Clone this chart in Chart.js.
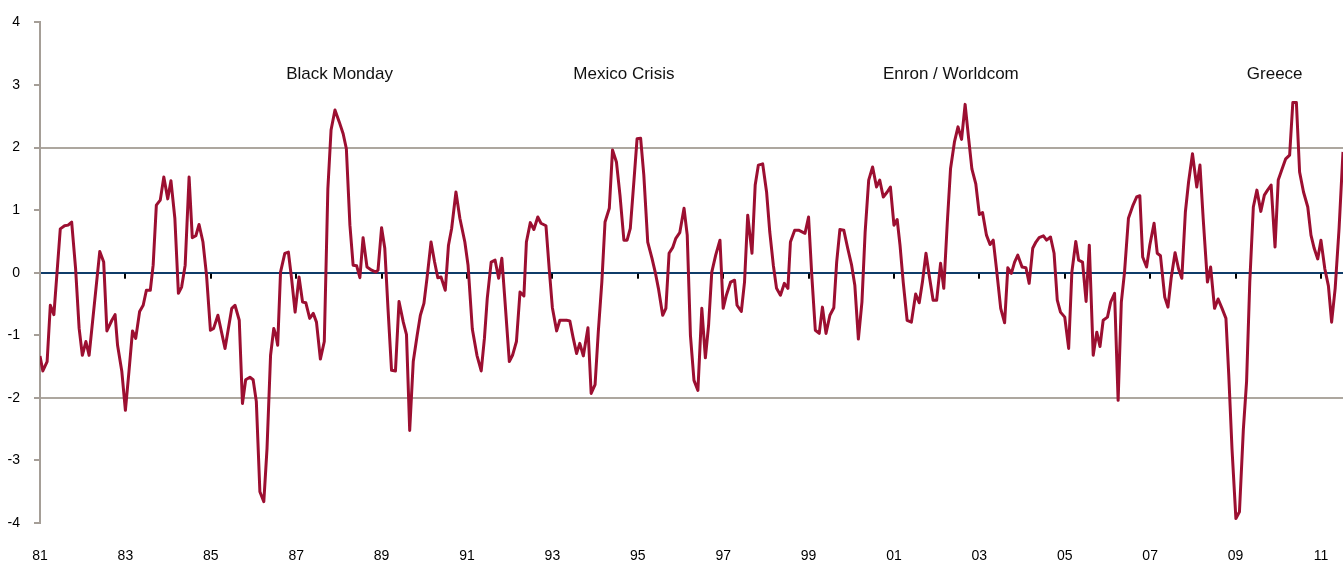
<!DOCTYPE html>
<html><head><meta charset="utf-8">
<script src="https://cdn.jsdelivr.net/npm/chart.js@4.4.0/dist/chart.umd.min.js"></script>
<style>html,body{margin:0;padding:0;background:#fff;}#wrap{width:1343px;height:564px;}</style>
</head><body><div id="wrap"><canvas id="c" width="1343" height="564"></canvas></div>
<script>
// months since Jan 1981 (at each visible vertex)
const months = [
0,0.8,2.0,2.9,3.9,5.7,6.9,7.9,8.9,10.0,11.0,11.9,12.9,13.8,16.8,17.9,18.8,20.2,21.1,21.8,23.0,24.0,25.0,26.0,26.9,28.0,29.0,
29.9,31.0,31.8,32.7,33.8,34.8,35.9,36.8,37.9,38.9,39.8,40.8,41.9,42.8,43.8,44.7,45.8,46.8,47.9,48.8,50.0,52.0,53.9,54.8,56.0,56.9,57.8,59.0,
59.9,60.8,61.8,62.9,63.8,64.8,65.7,66.3,66.8,67.6,68.8,69.8,70.7,71.7,72.8,73.8,74.7,75.8,76.8,77.7,78.8,79.9,80.9,81.8,82.9,84.1,85.2,86.1,87.1,88.0,89.0,89.9,90.8,
91.9,93.2,94.4,95.0,96.0,96.9,97.8,98.8,99.9,100.9,102.1,103.0,103.9,104.9,106.0,106.9,107.9,108.8,109.9,110.9,111.8,112.7,113.9,114.8,115.7,116.9,118.0,119.4,120.3,
121.5,122.8,124.0,124.9,125.7,126.8,127.9,128.9,129.8,130.7,131.9,132.8,133.9,134.9,136.0,136.7,137.8,138.8,139.9,140.8,142.2,143.1,144.0,145.2,146.1,148.0,148.9,149.8,150.8,151.7,152.7,
154.0,154.9,156.0,156.9,157.9,158.8,160.0,160.9,162.0,163.0,164.1,165.0,165.9,166.9,167.8,168.8,169.7,170.8,172.0,172.9,173.8,175.0,175.9,176.8,177.8,178.7,179.8,181.0,181.9,182.8,
183.8,184.9,186.0,187.0,187.9,188.8,189.9,191.1,192.0,192.9,194.1,195.2,195.9,197.1,198.0,198.9,200.1,201.0,201.9,203.1,204.2,205.1,206.1,207.0,208.1,209.2,210.2,210.9,212.1,213.2,
215.0,216.0,216.9,217.9,219.0,219.9,220.9,222.0,223.1,223.9,224.8,225.9,227.0,228.1,229.0,230.0,231.0,231.9,232.9,234.0,235.1,236.0,237.0,238.1,239.0,240.0,240.9,241.7,242.6,243.7,244.9,
246.1,247.1,248.0,249.0,249.9,251.0,252.0,253.1,254.0,255.0,255.9,257.0,258.0,259.0,260.0,261.0,261.9,263.0,264.0,264.9,266.0,267.0,267.9,268.8,270.0,271.1,272.0,273.0,273.9,274.8,276.0,
277.1,278.0,279.0,279.9,280.8,282.0,282.9,284.0,285.0,285.9,286.8,288.0,289.1,290.0,291.1,291.9,293.0,294.0,294.9,296.0,297.0,297.9,298.8,300.0,300.9,302.0,303.0,303.9,304.8,305.9,
307.2,308.2,309.1,309.9,311.0,311.9,313.1,314.0,314.9,316.1,317.0,317.9,319.0,320.0,320.9,321.9,322.8,323.9,325.1,326.0,326.9,328.1,329.0,330.1,331.1,332.2,333.3,334.1,335.0,336.1,337.1,
338.2,339.1,340.0,341.0,342.0,343.1,344.1,345.0,346.0,347.1,348.0,349.1,350.1,351.2,352.1,353.1,354.0,355.1,356.3,357.2,358.1,359.1,360.0,361.1,362.1,363.0,364.0,365.1,366.2
];
const values = [
-1.33,-1.57,-1.42,-0.52,-0.67,0.70,0.75,0.76,0.81,0.07,-0.89,-1.32,-1.10,-1.32,0.34,0.17,-0.93,-0.76,-0.67,-1.16,-1.58,-2.20,-1.58,-0.93,-1.05,-0.62,-0.52,
-0.28,-0.28,0.12,1.08,1.16,1.53,1.18,1.47,0.87,-0.33,-0.23,0.12,1.53,0.56,0.59,0.77,0.49,-0.04,-0.92,-0.89,-0.68,-1.21,-0.57,-0.52,-0.76,-2.09,-1.71,-1.67,
-1.71,-2.06,-3.50,-3.66,-2.81,-1.32,-0.89,-1.00,-1.16,0.01,0.31,0.33,-0.09,-0.63,-0.07,-0.47,-0.48,-0.73,-0.65,-0.79,-1.38,-1.10,1.34,2.28,2.60,2.41,2.22,1.98,0.76,0.12,0.11,-0.08,0.56,
0.09,0.04,0.01,0.04,0.72,0.39,-0.57,-1.56,-1.57,-0.46,-0.79,-0.99,-2.52,-1.42,-1.00,-0.68,-0.49,-0.07,0.49,0.17,-0.08,-0.07,-0.28,0.44,0.71,1.29,0.87,0.49,0.12,
-0.90,-1.32,-1.57,-1.05,-0.41,0.17,0.20,-0.09,0.23,-0.47,-1.42,-1.32,-1.10,-0.31,-0.37,0.49,0.80,0.69,0.89,0.79,0.75,0.07,-0.56,-0.93,-0.76,-0.76,-0.77,-1.03,-1.29,-1.13,-1.33,
-0.88,-1.93,-1.79,-0.95,-0.15,0.81,1.03,1.96,1.77,1.24,0.52,0.52,0.71,1.45,2.14,2.15,1.56,0.49,0.23,0.01,-0.25,-0.68,-0.57,0.31,0.40,0.55,0.64,1.03,0.60,-1.00,
-1.72,-1.88,-0.57,-1.36,-0.84,0.01,0.28,0.52,-0.57,-0.36,-0.15,-0.12,-0.52,-0.62,-0.15,0.92,0.31,1.40,1.72,1.74,1.29,0.65,0.12,-0.25,-0.36,-0.17,-0.25,0.49,0.68,0.68,
0.63,0.89,-0.04,-0.92,-0.97,-0.55,-0.97,-0.68,-0.56,0.17,0.69,0.68,0.39,0.12,-0.20,-1.06,-0.47,0.65,1.48,1.69,1.37,1.48,1.21,1.29,1.37,0.76,0.85,0.44,-0.15,-0.76,-0.79,
-0.34,-0.48,-0.15,0.31,-0.04,-0.44,-0.44,0.15,-0.25,0.81,1.66,2.09,2.33,2.13,2.69,2.14,1.66,1.42,0.93,0.96,0.60,0.45,0.52,0.07,-0.57,-0.80,0.08,-0.01,0.17,0.28,0.09,
0.08,-0.17,0.39,0.49,0.56,0.59,0.52,0.57,0.31,-0.44,-0.63,-0.71,-1.21,0.01,0.50,0.20,0.17,-0.46,0.44,-1.32,-0.95,-1.18,-0.76,-0.71,-0.47,-0.33,-2.04,-0.47,0.01,0.87,
1.08,1.21,1.23,0.25,0.09,0.44,0.79,0.31,0.27,-0.39,-0.55,-0.09,0.32,0.06,-0.09,0.97,1.45,1.90,1.37,1.72,0.87,-0.15,0.09,-0.57,-0.42,-0.57,-0.73,-1.64,-2.81,-3.93,-3.82,
-2.50,-1.74,-0.15,1.05,1.32,0.98,1.24,1.32,1.40,0.41,1.48,1.66,1.82,1.88,2.72,2.72,1.61,1.29,1.05,0.60,0.39,0.22,0.52,0.06,-0.21,-0.79,-0.25,0.71,1.93
];
const tickMonths = [0,24,48,72,96,120,144,168,192,216,240,264,288,312,336,360];
const tickLabels = ['81','83','85','87','89','91','93','95','97','99','01','03','05','07','09','11'];
const eventLabels = ['Black Monday','Mexico Crisis','Enron / Worldcom','Greece'];
const eventMonths = [84.2,164.1,256.0,347.0];
const eventLevel = 3.17;
const bandLevels = [-2,2];

const FONT = "'Liberation Sans', Arial, sans-serif";

const extras = {
  id: 'extras',
  beforeDatasetsDraw(chart) {
    const {ctx, scales:{x, y}} = chart;
    const y0 = y.getPixelForValue(0);
    ctx.save();
    ctx.fillStyle = '#000';
    tickMonths.forEach((m, i) => {
      if (i === 0) return;
      const px = Math.round(x.getPixelForValue(m));
      ctx.fillRect(px - 1, y0 + 1, 2, 5);
    });
    ctx.restore();
  },
  afterDatasetsDraw(chart) {
    const {ctx, scales:{x, y}} = chart;
    ctx.save();
    ctx.fillStyle = '#111';
    ctx.font = '17px ' + FONT;
    ctx.textAlign = 'center';
    ctx.textBaseline = 'middle';
    eventLabels.forEach((t, i) => {
      ctx.fillText(t, x.getPixelForValue(eventMonths[i]), y.getPixelForValue(eventLevel));
    });
    ctx.restore();
  }
};

new Chart(document.getElementById('c'), {
  type: 'line',
  data: {
    datasets: [{
      data: months.map((m, i) => ({x: m, y: values[i]})),
      borderColor: '#9c0f31',
      borderWidth: 3,
      pointRadius: 0,
      tension: 0,
      borderJoinStyle: 'round',
      fill: false
    }]
  },
  options: {
    responsive: false,
    animation: false,
    events: [],
    layout: {padding: {top: 22, left: 0, right: 0, bottom: 0}},
    plugins: {legend: {display: false}, tooltip: {enabled: false}},
    scales: {
      x: {
        type: 'linear',
        min: 0,
        max: 366.2,
        afterBuildTicks: s => { s.ticks = tickMonths.map(v => ({value: v})); },
        afterFit: s => { s.height = 41; },
        grid: {display: false, drawTicks: true, tickLength: 25},
        border: {display: false},
        ticks: {
          callback: (v, i) => tickLabels[i],
          font: {family: FONT, size: 14},
          color: '#000',
          padding: 0,
          maxRotation: 0,
          autoSkip: false
        }
      },
      y: {
        min: -4,
        max: 4,
        afterFit: s => { s.width = 40; },
        ticks: {
          stepSize: 1,
          font: {family: FONT, size: 14},
          color: '#000',
          padding: 14
        },
        grid: {
          color: c => c.tick.value === 0 ? '#0f3c69' : (bandLevels.includes(c.tick.value) ? '#ada79f' : 'rgba(0,0,0,0)'),
          lineWidth: 2,
          drawTicks: true,
          tickLength: 6,
          tickColor: '#a59e97',
          tickWidth: 2
        },
        border: {display: true, color: '#a59e97', width: 2}
      }
    }
  },
  plugins: [extras]
});
</script>
</body></html>
